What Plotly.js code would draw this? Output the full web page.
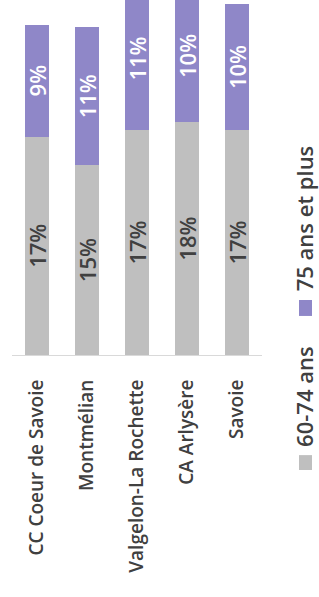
<!DOCTYPE html>
<html>
<head>
<meta charset="utf-8">
<script src="https://cdn.plot.ly/plotly-3.0.1.min.js"></script>
<style>html,body{margin:0;padding:0;background:#fff;}#chart{width:319px;height:597px;}</style>
</head>
<body>
<div id="chart"></div>
<script>
const categories = ["CC Coeur de Savoie", "Montmélian", "Valgelon-La Rochette", "CA Arlysère", "Savoie"];
const age60to74 = [16.8, 14.6, 17.3, 17.9, 17.3];
const age75plus = [8.6, 10.6, 11.0, 10.2, 9.7];
const seriesNames = ["60-74 ans", "75 ans et plus"];
const colors = ["#bfbfbf", "#8f87c8"];

const font = "Open Sans, Liberation Sans, sans-serif";

const traces = [
  {
    type: "bar", name: seriesNames[0], x: categories, y: age60to74,
    marker: {color: colors[0]},
    texttemplate: "%{y:.0f}%", textposition: "inside", insidetextanchor: "middle",
    textangle: -90, constraintext: "none",
    textfont: {family: font, size: 22, color: "#404040", weight: 600},
    hoverinfo: "skip"
  },
  {
    type: "bar", name: seriesNames[1], x: categories, y: age75plus,
    marker: {color: colors[1]},
    texttemplate: "%{y:.0f}%", textposition: "inside", insidetextanchor: "middle",
    textangle: -90, constraintext: "none",
    textfont: {family: font, size: 22, color: "#ffffff", weight: 600},
    hoverinfo: "skip"
  }
];

const layout = {
  width: 319, height: 597,
  margin: {l: 12, r: 57, t: 0, b: 242, pad: 0},
  paper_bgcolor: "#ffffff", plot_bgcolor: "#ffffff",
  barmode: "stack", bargap: 0.52,
  showlegend: false,
  xaxis: {
    type: "category", showline: true, linecolor: "#d9d9d9", linewidth: 1,
    showgrid: false, zeroline: false, ticks: "", tickangle: -90,
    ticklabelstandoff: 16,
    tickfont: {family: font, size: 19, color: "#404040", weight: 600}
  },
  yaxis: {
    range: [0, 27.3], visible: false, showgrid: false, zeroline: false
  },
  shapes: [
    {type: "rect", xref: "paper", yref: "paper", x0: 1.148, x1: 1.2, y0: 0.110, y1: 0.155,
     fillcolor: colors[1], line: {width: 0}},
    {type: "rect", xref: "paper", yref: "paper", x0: 1.148, x1: 1.2, y0: -0.324, y1: -0.282,
     fillcolor: colors[0], line: {width: 0}}
  ],
  annotations: [
    {xref: "paper", yref: "paper", x: 1.168, y: 0.385, text: seriesNames[1], showarrow: false,
     textangle: -90, xanchor: "center", yanchor: "middle",
     font: {family: font, size: 22, color: "#404040", weight: 600}},
    {xref: "paper", yref: "paper", x: 1.168, y: -0.118, text: seriesNames[0], showarrow: false,
     textangle: -90, xanchor: "center", yanchor: "middle",
     font: {family: font, size: 22, color: "#404040", weight: 600}}
  ]
};

Plotly.newPlot("chart", traces, layout, {staticPlot: true, displayModeBar: false});
</script>
</body>
</html>
